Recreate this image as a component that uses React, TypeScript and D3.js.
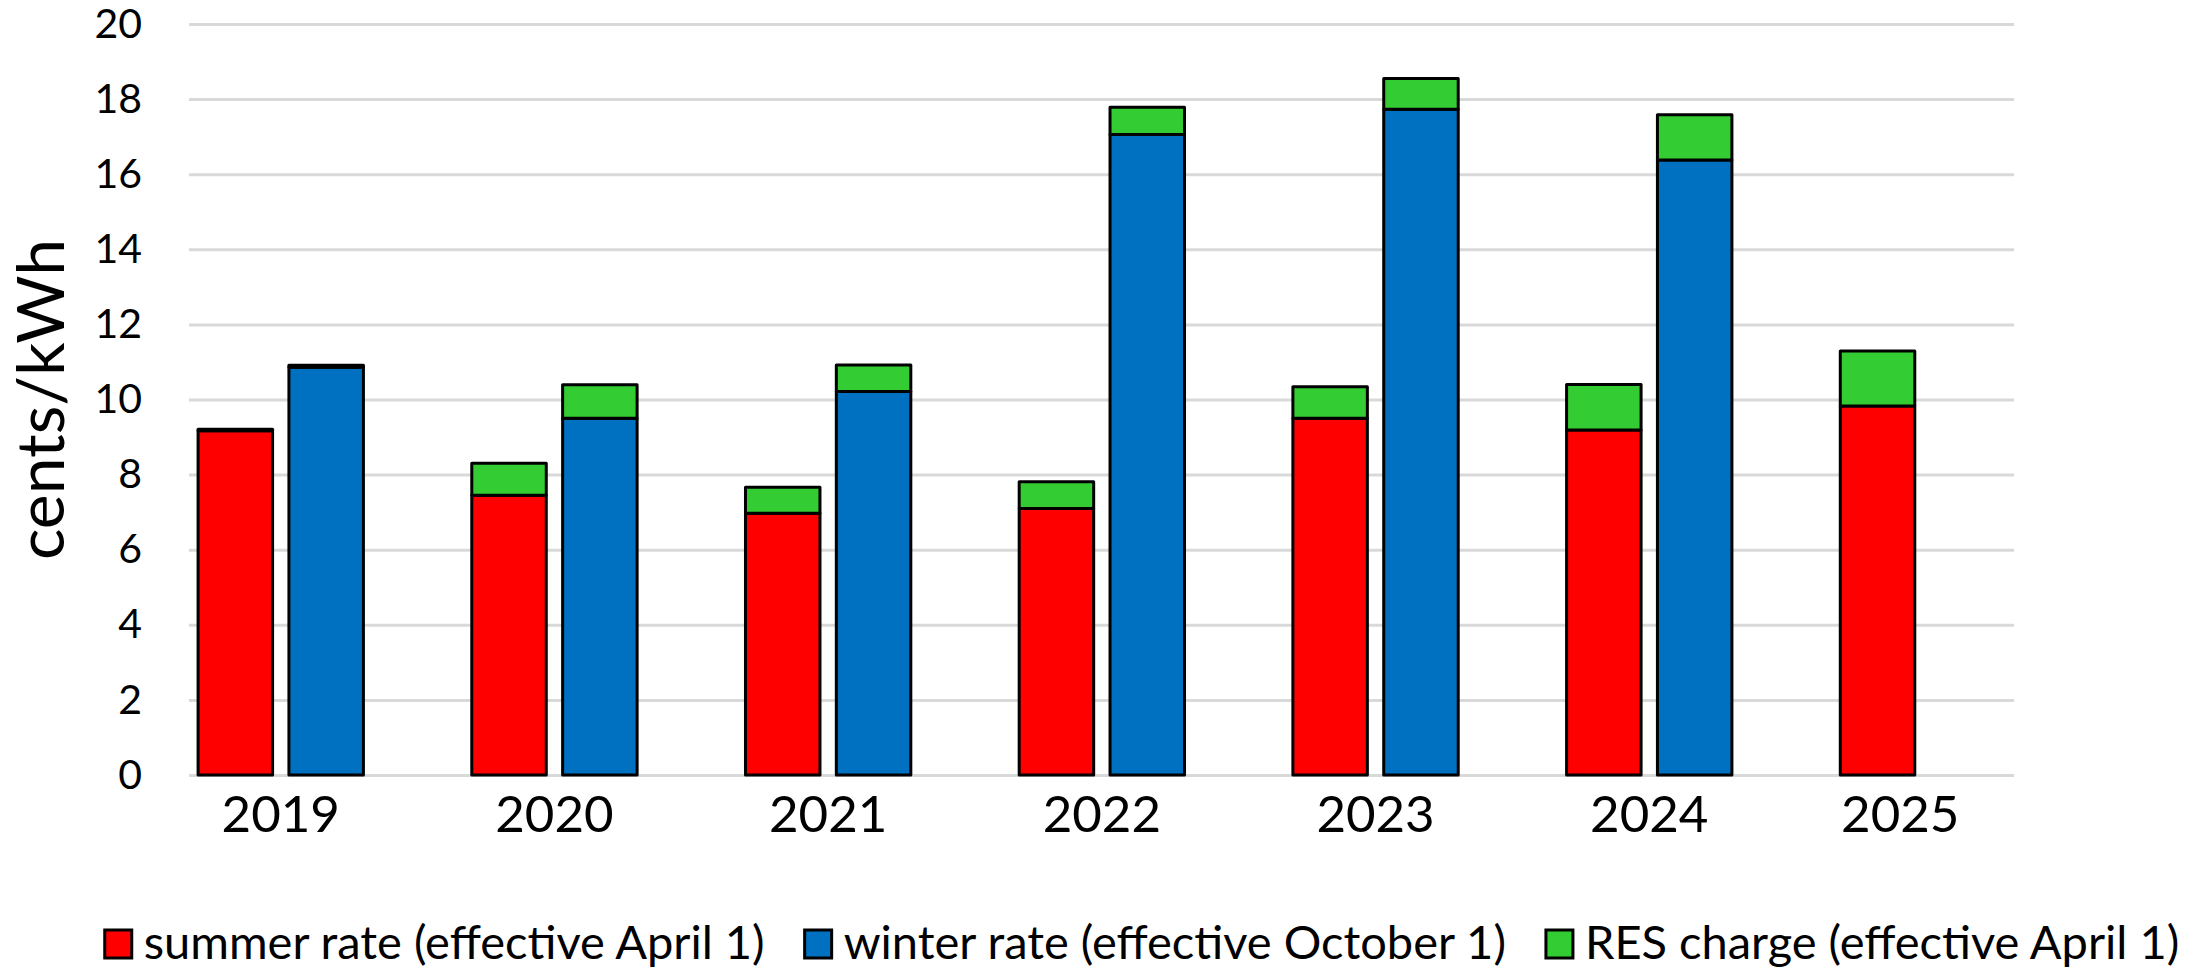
import React, { useEffect, useRef } from "react";
import * as d3 from "d3";

// values (cents/kWh)
const years = ["2019", "2020", "2021", "2022", "2023", "2024", "2025"];
const summerRate = [9.17, 7.45, 6.97, 7.1, 9.5, 9.19, 9.83];
const summerRes = [0.04, 0.85, 0.69, 0.71, 0.84, 1.21, 1.46];
const winterRate: (number | null)[] = [10.86, 9.5, 10.21, 17.06, 17.73, 16.38, null];
const winterRes: (number | null)[] = [0.05, 0.89, 0.71, 0.72, 0.82, 1.2, null];
const yTicks = [0, 2, 4, 6, 8, 10, 12, 14, 16, 18, 20];
const legendLabels = [
  "summer rate (effective April 1)",
  "winter rate (effective October 1)",
  "RES charge (effective April 1)",
];

const RED = "#FF0000";
const BLUE = "#0070C0";
const GREEN = "#33CC33";
const FONT = "Lato, 'Open Sans', sans-serif";

const App = () => {
  const ref = useRef<SVGSVGElement>(null);

  useEffect(() => {
    const width = 2199,
      height = 972;
    const plotLeft = 189,
      plotRight = 2014,
      plotTop = 24,
      plotBottom = 775;
    const step = 273.7;

    const svg = d3.select(ref.current).attr("width", width).attr("height", height);
    svg.selectAll("*").remove();

    const y = d3.scaleLinear().domain([0, 20]).range([plotBottom, plotTop]);
    const x = d3
      .scaleBand()
      .domain(years)
      .range([plotLeft, plotLeft + step * years.length])
      .padding(0);
    // two bars per year, then empty space up to the next year
    const xs = d3
      .scaleBand()
      .domain(["summer", "winter"])
      .range([0, 183.5])
      .paddingInner(0.18)
      .paddingOuter(0.1);

    // grid + y labels
    const yAxis = d3
      .axisLeft(y)
      .tickValues(yTicks)
      .tickSize(-(plotRight - plotLeft))
      .tickPadding(47)
      .tickFormat(d3.format("d"));
    const ga = svg
      .append("g")
      .attr("transform", `translate(${plotLeft},0)`)
      .call(yAxis);
    ga.select(".domain").remove();
    ga.selectAll(".tick line").attr("stroke", "#D9D9D9").attr("stroke-width", 3);
    ga.selectAll(".tick text")
      .attr("fill", "#000")
      .style("font-family", FONT)
      .style("font-size", "41px");

    // stacked segments
    const segs: { year: string; slot: string; y0: number; y1: number; color: string }[] = [];
    years.forEach((yr, i) => {
      segs.push({ year: yr, slot: "summer", y0: 0, y1: summerRate[i], color: RED });
      segs.push({ year: yr, slot: "summer", y0: summerRate[i], y1: summerRate[i] + summerRes[i], color: GREEN });
      const w = winterRate[i];
      const wr = winterRes[i];
      if (w != null) {
        segs.push({ year: yr, slot: "winter", y0: 0, y1: w, color: BLUE });
        if (wr != null) segs.push({ year: yr, slot: "winter", y0: w, y1: w + wr, color: GREEN });
      }
    });

    svg
      .append("g")
      .selectAll("rect")
      .data(segs)
      .join("rect")
      .attr("x", (d) => (x(d.year) as number) + (xs(d.slot) as number))
      .attr("width", xs.bandwidth())
      .attr("y", (d) => y(d.y1))
      .attr("height", (d) => y(d.y0) - y(d.y1))
      .attr("fill", (d) => d.color)
      .attr("stroke", "#000")
      .attr("stroke-width", 3)
      .attr("stroke-linejoin", "round");

    // year labels under each pair (a lone bar pulls its label toward it)
    const pairMid = (xs("summer")! + xs("winter")! + xs.bandwidth()) / 2;
    const summerMid = xs("summer")! + xs.bandwidth() / 2;
    svg
      .append("g")
      .selectAll("text")
      .data(years)
      .join("text")
      .attr("x", (d, i) =>
        (x(d) as number) + (winterRate[i] == null ? (pairMid + summerMid) / 2 : pairMid)
      )
      .attr("y", 832)
      .attr("text-anchor", "middle")
      .style("font-family", FONT)
      .style("font-size", "51px")
      .text((d) => d);

    // y title
    svg
      .append("text")
      .attr("transform", `translate(64,${(plotTop + plotBottom) / 2}) rotate(-90)`)
      .attr("text-anchor", "middle")
      .style("font-family", FONT)
      .style("font-size", "66px")
      .text("cents/kWh");

    // legend, laid out left to right and centred
    const colors = [RED, BLUE, GREEN];
    const lg = svg.append("g");
    const items = lg
      .selectAll("g")
      .data(legendLabels)
      .join("g");
    items
      .append("rect")
      .attr("width", 27)
      .attr("height", 28)
      .attr("y", 930)
      .attr("fill", (d, i) => colors[i])
      .attr("stroke", "#000")
      .attr("stroke-width", 3);
    items
      .append("text")
      .attr("x", 39)
      .attr("y", 959)
      .style("font-family", FONT)
      .style("font-size", "47px")
      .text((d) => d);

    let cx = 0;
    const offsets: number[] = [];
    items.each(function () {
      offsets.push(cx);
      const t = d3.select(this).select("text").node() as SVGTextElement;
      cx += 39 + t.getComputedTextLength() + 40;
    });
    const total = cx - 40;
    const start = 1142 - total / 2;
    items.attr("transform", (d, i) => `translate(${start + offsets[i]},0)`);
  }, []);

  return (
    <svg ref={ref} style={{ position: "absolute", left: 0, top: 0, background: "#fff" }}></svg>
  );
};

export default App;
